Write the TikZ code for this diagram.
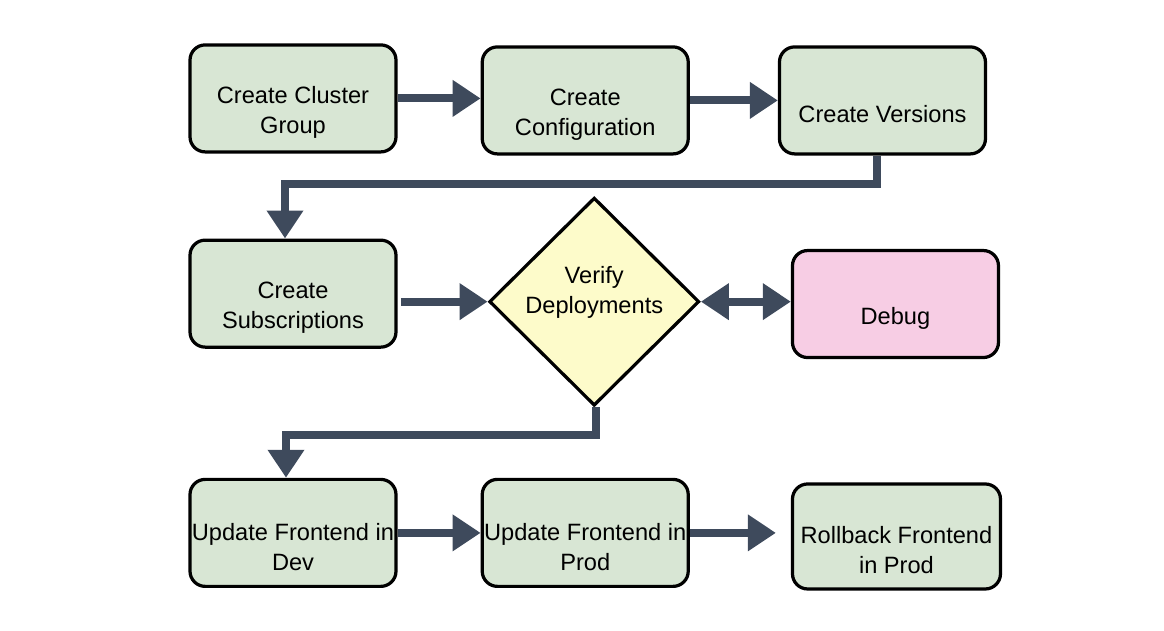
\documentclass[tikz,border=0pt]{standalone}
\usepackage{fontspec}
\setmainfont{Liberation Sans}
\usetikzlibrary{arrows.meta,positioning,shapes.geometric,calc}
\definecolor{stepgreen}{HTML}{D8E6D4}
\definecolor{debugpink}{HTML}{F7CDE4}
\definecolor{checkyellow}{HTML}{FDFBCA}
\definecolor{flowslate}{RGB}{62,74,92}
\newcommand{\dropln}{\rule{0pt}{32pt}}
\tikzset{
    stepbox/.style={draw, line width=2.3pt, rounded corners=0.38cm, align=center,
        font=\fontsize{16.8}{21.3}\selectfont, fill=stepgreen,
        minimum width=5.15cm, minimum height=2.675cm, inner sep=0pt},
    checkbox/.style={diamond, draw, line width=2.3pt, align=center, aspect=1,
        font=\fontsize{16.8}{21.3}\selectfont, fill=checkyellow,
        minimum width=5.25cm, minimum height=5.2cm, inner sep=0pt},
    flowarrow/.style={-{Triangle[length=0.7cm, width=0.875cm]}, line width=0.2cm,
        draw=flowslate},
    botharrow/.style={{Triangle[length=0.7cm, width=0.875cm]}-{Triangle[length=0.7cm, width=0.875cm]},
        line width=0.2cm, draw=flowslate}
}
\begin{document}
\begin{tikzpicture}[node distance=2.075cm]
\useasboundingbox (0,0) rectangle (29.1,-15.75);
\node[stepbox] (cluster) at (7.325,-2.46) {\dropln Create Cluster\\Group};
\node[stepbox, right=of cluster, yshift=-0.05cm] (config) {\dropln Create\\Configuration};
\node[stepbox, right=2.2cm of config] (versions) {\dropln Create Versions};
\node[stepbox, below=2.125cm of cluster] (subs) {\dropln Create\\Subscriptions};
\node[checkbox, right=2.25cm of subs, yshift=-0.2cm] (verify) {Verify\\Deployments\rule[-16pt]{0pt}{16pt}};
\node[stepbox, right=2.25cm of verify, yshift=-0.06cm, fill=debugpink] (debug) {\dropln Debug};
\node[stepbox, below=3.225cm of subs] (dev) {\dropln Update Frontend in\\Dev};
\node[stepbox, right=of dev] (prod) {\dropln Update Frontend in\\Prod};
\node[stepbox, right=2.525cm of prod, yshift=-0.09cm, minimum width=5.2cm, minimum height=2.625cm] (rollback) {\dropln Rollback Frontend\\in Prod};
% top row
\draw[flowarrow] (cluster.east) -- (cluster.east -| config.west);
\draw[flowarrow] (config.east) -- (config.east -| versions.west);
\draw[flowarrow] ([xshift=-0.125cm]versions.south) -- ++(0,-0.72cm) -| ([xshift=-0.2cm]subs.north);
% middle row
\draw[flowarrow] ([xshift=0.08cm]subs.east |- verify.west) -- (verify.west);
\draw[botharrow] (verify.east) -- (verify.east -| debug.west);
\draw[flowarrow] ([xshift=0.05cm]verify.south) -- ++(0,-0.7cm) -| ([xshift=-0.175cm]dev.north);
% bottom row
\draw[flowarrow] (dev.east) -- (prod.west);
\draw[flowarrow, shorten >=0.375cm] (prod.east) -- (prod.east -| rollback.west);
\end{tikzpicture}
\end{document}
